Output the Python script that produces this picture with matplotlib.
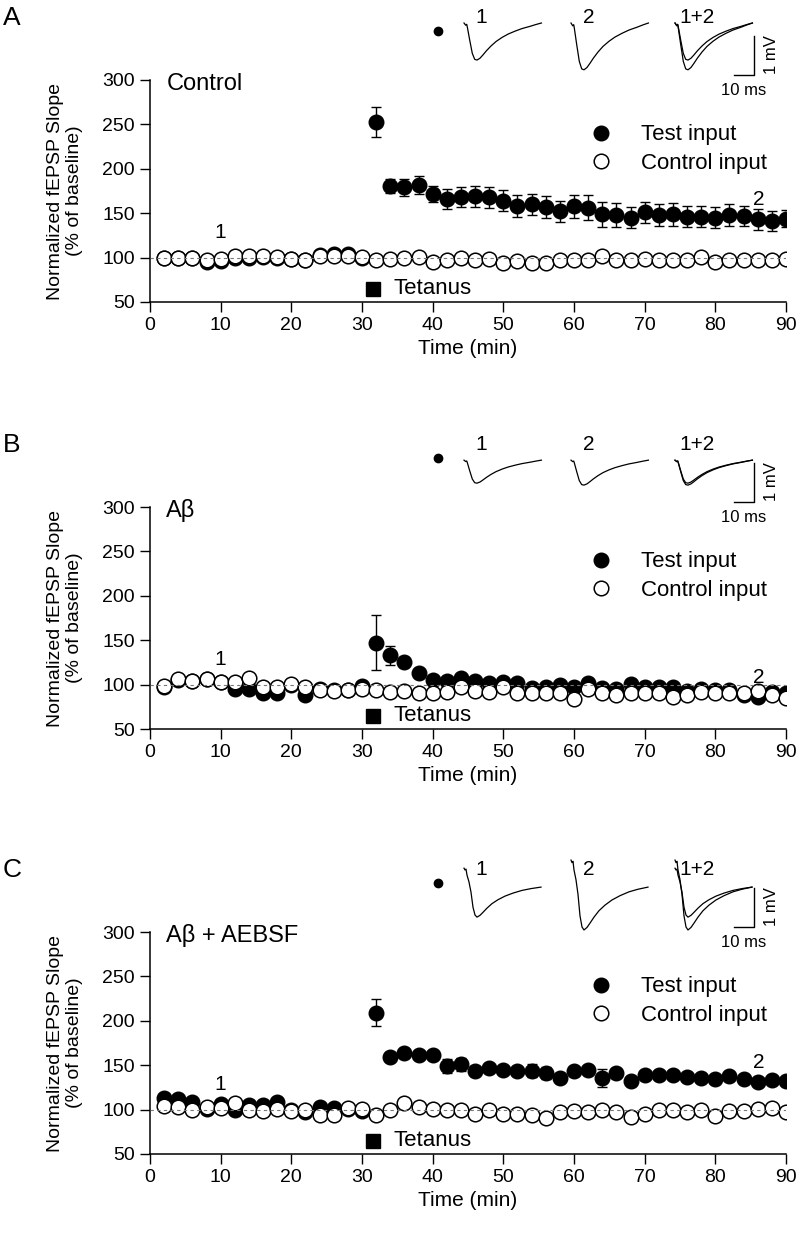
import matplotlib
matplotlib.use("Agg")
import matplotlib.pyplot as plt
from matplotlib.lines import Line2D
import numpy as np

plt.rcParams['font.family'] = ['Liberation Sans', 'DejaVu Sans']

# time points (min)
time_min = list(range(2, 91, 2))

# Panel A - Control
a_test = [100, 100, 100, 95, 96, 100, 100, 101, 100, 98, 97, 103, 104, 104, 99,
          253, 181, 179, 182, 172, 166, 168,
          169, 168, 164, 158, 160, 157, 152, 158, 156, 149, 148, 145, 151, 148,
          149, 146, 146, 145, 148, 147, 143, 141, 144]
a_test_err = [3] * 15 + [17, 8, 10, 10, 9, 11, 11, 12, 12, 12, 12, 12, 12, 12, 13,
                         14, 14, 13, 12, 12, 12, 13, 12, 12, 12, 12, 11, 12, 11, 10]
a_ctrl = [100, 99, 100, 97, 98, 102, 102, 102, 101, 98, 97, 102, 102, 102, 101,
          97, 98, 100, 101, 95, 97, 100,
          97, 98, 94, 96, 94, 94, 97, 97, 97, 102, 97, 97, 98, 97, 97, 97, 101,
          95, 97, 97, 97, 97, 98]
a_ctrl_err = [3] * 45

# Panel B - Abeta
b_test = [97, 105, 104, 106, 103, 95, 95, 91, 90, 100, 88, 95, 94, 94, 98,
          147, 133, 125, 113, 105, 104, 107,
          104, 102, 103, 102, 96, 97, 100, 97, 102, 96, 95, 101, 97, 97, 97, 93,
          95, 94, 94, 88, 86, 92, 90]
b_test_err = [3] * 15 + [31, 11, 5, 4, 4, 4] + [3] * 24
b_ctrl = [98, 106, 104, 106, 103, 103, 107, 97, 97, 101, 97, 94, 93, 94, 95,
          94, 92, 93, 91, 90, 92, 97,
          93, 92, 97, 91, 91, 91, 91, 84, 95, 90, 88, 90, 91, 90, 86, 88, 92, 91,
          90, 90, 93, 88, 85]
b_ctrl_err = [3] * 45

# Panel C - Abeta + AEBSF
c_test = [113, 112, 108, 101, 106, 99, 105, 105, 109, 100, 97, 103, 102, 101, 98,
          209, 159, 164, 162, 161, 149, 151,
          144, 147, 145, 143, 144, 141, 136, 144, 145, 136, 141, 132, 139, 139,
          139, 137, 136, 134, 138, 135, 131, 133, 132]
c_test_err = [4] * 15 + [15, 4, 4, 4, 4, 8, 7, 5, 4, 4, 4, 7, 7, 4, 4, 4,
                         10, 4, 4, 4, 4, 4, 4, 4, 4, 4, 4, 4, 4, 4]
c_ctrl = [104, 103, 99, 103, 102, 107, 100, 98, 101, 98, 100, 94, 94, 102, 101,
          94, 100, 107, 103, 101, 100, 100,
          95, 100, 95, 95, 94, 91, 97, 98, 97, 100, 97, 92, 95, 99, 99, 97, 99,
          93, 98, 98, 101, 102, 97]
c_ctrl_err = [3] * 45

titles = ["Control", "A\u03b2", "A\u03b2 + AEBSF"]
letters = ["A", "B", "C"]

# fEPSP trace shapes: (ms, fraction of peak depth)
trace_ms = [0, 0.85, 1.35, 1.65, 2.85, 4.15, 5.35, 6.5, 8, 9.5, 11.2, 13.5, 16,
            19, 22, 25.5, 29, 33, 36, 38.7]
trace_ab = [0, 0.06, 0.035, 0.107, 0.46, 0.82, 0.98, 1.0, 0.95, 0.86, 0.75, 0.62,
            0.5, 0.39, 0.3, 0.22, 0.15, 0.09, 0.04, 0]
trace_c_ms = [0, 0.5, 1.0, 1.5, 2.5, 3.5, 4.5, 5.5, 6.5, 8, 9.5, 11.5, 14, 17,
              20.5, 24.5, 29, 33.5, 38.5]
trace_c = [-0.63, -0.57, -0.6, -0.4, -0.17, 0.17, 0.67, 0.93, 1.0, 0.94, 0.84,
           0.7, 0.55, 0.42, 0.3, 0.2, 0.11, 0.05, 0]
# peak depths (mV) of trace 1 and trace 2 per panel, baseline level in inset
depth1 = [0.95, 0.59, 0.77]
depth2 = [1.20, 0.64, 1.10]
base_mv = [-0.59, -0.85, -0.90]

panels = [
    (a_test, a_test_err, a_ctrl, a_ctrl_err),
    (b_test, b_test_err, b_ctrl, b_ctrl_err),
    (c_test, c_test_err, c_ctrl, c_ctrl_err),
]
axes_top_px = [80, 507, 932]

W, H = 800, 1233
fig = plt.figure(figsize=(W / 100, H / 100), dpi=100)

for i, (test, test_err, ctrl, ctrl_err) in enumerate(panels):
    top = axes_top_px[i]
    ax = fig.add_axes([150 / W, 1 - (top + 222) / H, 636 / W, 222 / H])

    ax.errorbar(time_min, test, yerr=test_err, fmt='o', color='black', ms=10.5,
                mec='black', mew=1.0, capsize=3.8, elinewidth=1.0, capthick=1.0,
                zorder=3)
    ax.errorbar(time_min, ctrl, yerr=ctrl_err, fmt='o', color='black', mfc='white',
                ms=10.5, mec='black', mew=1.1, capsize=3.8, elinewidth=1.0,
                capthick=1.0, zorder=4)
    ax.plot([0, 90], [100, 100], ls=(0, (3, 3)), color='#777777', lw=0.8, zorder=5)

    ax.plot([31.5], [65], 's', color='black', ms=9.5)
    ax.text(34.4, 65, "Tetanus", fontsize=16, va='center', ha='left')
    ax.text(10, 128, "1", fontsize=15, ha='center', va='center')
    ax.text(86.2, test[-3] + 22, "2", fontsize=15, ha='center', va='center')
    ax.text(2.3, 296, titles[i], fontsize=17, ha='left', va='center')

    ax.set_xlim(0, 90)
    ax.set_ylim(50, 300)
    ax.set_xticks(range(0, 91, 10))
    ax.set_yticks(range(50, 301, 50))
    ax.spines['top'].set_visible(False)
    ax.spines['right'].set_visible(False)
    for s in ['left', 'bottom']:
        ax.spines[s].set_linewidth(1.1)
    ax.tick_params(direction='out', length=7, width=1.0, labelsize=14, pad=4)
    ax.set_xlabel("Time (min)", fontsize=15)
    ax.xaxis.set_label_coords(0.5, -0.165)
    ax.set_ylabel("Normalized fEPSP Slope\n(% of baseline)", fontsize=14,
                  linespacing=1.15)
    ax.yaxis.set_label_coords(-0.106, 0.5)

    handles = [Line2D([], [], ls='none', marker='o', color='black', ms=10.5),
               Line2D([], [], ls='none', marker='o', mfc='white', mec='black',
                      ms=10.5, mew=1.1)]
    ax.legend(handles, ['Test input', 'Control input'], loc='upper left',
              bbox_to_anchor=(0.692, 0.80), frameon=False, fontsize=16,
              handlelength=1.0, handletextpad=1.3, labelspacing=0.35,
              borderpad=0, borderaxespad=0)

    # panel letter
    fig.text(12 / W, 1 - (top - 62) / H, letters[i], fontsize=19,
             ha='center', va='center')

    # inset with example traces
    ins = fig.add_axes([420 / W, 1 - (top - 80 + 110) / H, 370 / W, 110 / H])
    ins.set_xlim(0, 185)
    ins.set_ylim(-110 / 39, 0)
    ins.axis('off')
    ins.plot([9], [-0.79], 'o', color='black', ms=6)
    if i == 2:
        xs, shape = trace_c_ms, trace_c
    else:
        xs, shape = trace_ms, trace_ab
    starts = [22, 75.5, 127.5]
    xs = np.array(xs)
    shape = np.array(shape)
    y1 = base_mv[i] - shape * depth1[i]
    y2 = base_mv[i] - shape * depth2[i]
    ins.plot(starts[0] + xs, y1, color='black', lw=0.9)
    ins.plot(starts[1] + xs, y2, color='black', lw=0.9)
    ins.plot(starts[2] + xs, y1, color='black', lw=0.9)
    ins.plot(starts[2] + xs, y2, color='black', lw=0.9)
    for lab, xc in zip(["1", "2", "1+2"], [30.5, 84.5, 138.5]):
        ins.text(xc, -0.46, lab, fontsize=15, ha='center', va='center')
    ins.plot([157, 167, 167], [-1.92, -1.92, -0.92], color='black', lw=1.0)
    ins.text(162, -2.31, "10 ms", fontsize=12, ha='center', va='center')
    ins.text(176, -1.41, "1 mV", fontsize=12, ha='center', va='center', rotation=90)

fig.savefig("out.png", dpi=100)
